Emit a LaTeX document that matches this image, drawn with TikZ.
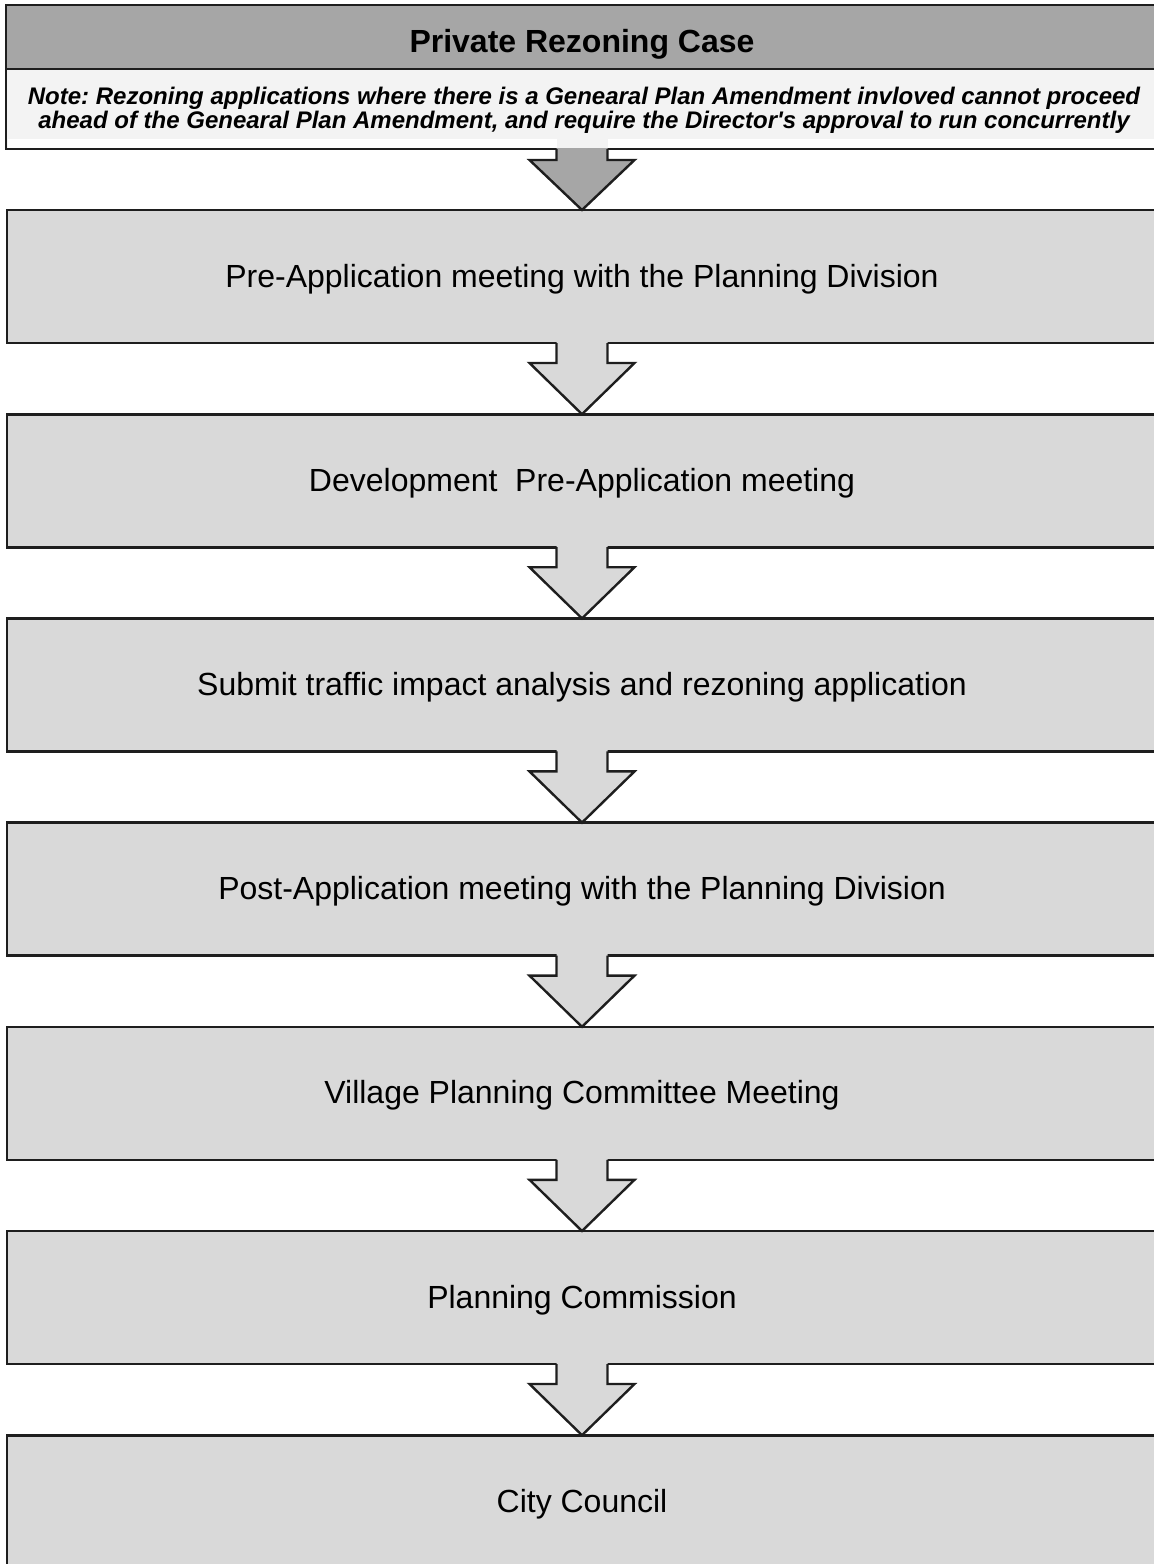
\documentclass[tikz,border=0pt]{standalone}
\usepackage{fontspec}
\setmainfont{Liberation Sans}
\usetikzlibrary{calc}
\definecolor{boxgray}{HTML}{D9D9D9}
\definecolor{headgray}{HTML}{A6A6A6}
\definecolor{notegray}{HTML}{F3F3F3}
\definecolor{edge}{HTML}{1E1E1E}
\frenchspacing
\begin{document}
\begin{tikzpicture}[x=0.5pt,y=-0.5pt,
  stepbox/.style={draw=edge, line width=1.3pt, fill=boxgray, minimum width=575pt,
    minimum height=66.5pt, inner sep=0pt, outer sep=0pt,
    font=\fontsize{16pt}{18pt}\selectfont, text height=11pt, text depth=0.5pt},
  headbox/.style={draw=edge, line width=1.4pt, fill=headgray, minimum width=576pt,
    minimum height=32pt, inner sep=0pt, outer sep=0pt,
    font=\fontsize{16pt}{19pt}\selectfont\bfseries, text height=15.5pt, text depth=0.5pt},
  notebox/.style={draw=edge, line width=1.3pt, fill=notegray, minimum width=576pt,
    minimum height=40pt, inner sep=0pt, outer sep=0pt},
  notetext/.style={anchor=base, inner sep=0pt, font=\fontsize{12pt}{12pt}\selectfont\bfseries\itshape},
  flowarrow/.style={draw=edge, line width=1.2pt, line join=miter},
]
\useasboundingbox (0,0) rectangle (1154,1564);
\clip (0,0) rectangle (1154,1564);

% header and note
\node[notebox] (note) at (582,109) {};
\fill[white] (8,139) rectangle (557,147.5);
\fill[white] (608,139) rectangle (1156,147.5);
\node[headbox] (head) at (582,37) {Private Rezoning Case};
\node[notetext] (note1) at (584,104) {Note: Rezoning applications where there is a Genearal Plan Amendment invloved cannot proceed};
\node[notetext] (note2) at (584,128) {ahead of the Genearal Plan Amendment, and require the Director\textquotesingle s approval to run concurrently};

% steps
\node[stepbox] (b1) at (582,276.5) {Pre-Application meeting with the Planning Division};
\node[stepbox] (b2) at (582,480.7) {Development\ \ Pre-Application meeting};
\node[stepbox] (b3) at (582,684.9) {Submit traffic impact analysis and rezoning application};
\node[stepbox] (b4) at (582,889.1) {Post-Application meeting with the Planning Division};
\node[stepbox] (b5) at (582,1093.3) {Village Planning Committee Meeting};
\node[stepbox] (b6) at (582,1297.5) {Planning Commission};
\node[stepbox] (b7) at (582,1501.7) {City Council};

% first (dark) arrow
\fill[headgray] ($(note.south)+(-25.5,-1)$) -- ($(note.south)+(-25.5,11)$) -- ($(note.south)+(-52.5,11)$)
  -- (b1.north) -- ($(note.south)+(52.5,11)$) -- ($(note.south)+(25.5,11)$) -- ($(note.south)+(25.5,-1)$) -- cycle;
\draw[flowarrow] ($(note.south)+(-25.5,0)$) -- ($(note.south)+(-25.5,11)$) -- ($(note.south)+(-52.5,11)$)
  -- (b1.north) -- ($(note.south)+(52.5,11)$) -- ($(note.south)+(25.5,11)$) -- ($(note.south)+(25.5,0)$);

% step arrows
\foreach \a/\b in {b1/b2,b2/b3,b3/b4,b4/b5,b5/b6,b6/b7} {
  \fill[boxgray] ($(\a.south)+(-25.5,-2)$) -- ($(\a.south)+(-25.5,20)$) -- ($(\a.south)+(-52.5,20)$)
    -- (\b.north) -- ($(\a.south)+(52.5,20)$) -- ($(\a.south)+(25.5,20)$) -- ($(\a.south)+(25.5,-2)$) -- cycle;
  \draw[flowarrow] ($(\a.south)+(-25.5,0)$) -- ($(\a.south)+(-25.5,20)$) -- ($(\a.south)+(-52.5,20)$)
    -- (\b.north) -- ($(\a.south)+(52.5,20)$) -- ($(\a.south)+(25.5,20)$) -- ($(\a.south)+(25.5,0)$);
}
\end{tikzpicture}
\end{document}
